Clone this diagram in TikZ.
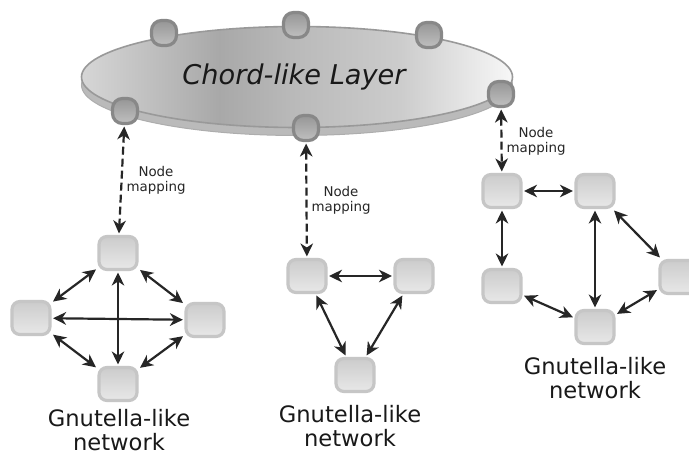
\documentclass[tikz,border=0pt]{standalone}
\usepackage{fontspec}
\setmainfont{DejaVu Sans}
\usetikzlibrary{arrows.meta,shapes.geometric,calc}
\pgfdeclarehorizontalshading{chordshade}{100bp}{rgb(0bp)=(.84,.84,.84);rgb(25bp)=(.84,.84,.84);rgb(41bp)=(.66,.66,.66);rgb(50bp)=(.73,.73,.73);rgb(62bp)=(.80,.80,.80);rgb(75bp)=(.97,.97,.97);rgb(100bp)=(.97,.97,.97)}
\definecolor{peerborder}{HTML}{C6C6C6}
\definecolor{peertop}{HTML}{CCCCCC}
\definecolor{peerbot}{HTML}{E8E8E8}
\definecolor{chordborder}{HTML}{888888}
\definecolor{chordtop}{HTML}{969696}
\definecolor{chordbot}{HTML}{C0C0C0}
\tikzset{
  x=1pt,y=-1pt,
  peer/.style={draw=peerborder,line width=3.2pt,rounded corners=8pt,minimum width=38pt,minimum height=33pt,inner sep=0pt,top color=peertop,bottom color=peerbot,outer sep=3pt},
  chordnode/.style={draw=chordborder,line width=3.2pt,rounded corners=10pt,minimum width=25pt,minimum height=25pt,inner sep=0pt,top color=chordtop,bottom color=chordbot,outer sep=3pt},
  link/.style={{Stealth[length=13pt,width=12.5pt,inset=4pt]}-{Stealth[length=13pt,width=12.5pt,inset=4pt]},line width=2.2pt,black!85},
  maplink/.style={link,dash pattern=on 8pt off 4pt},
  maplabel/.style={align=center,font=\fontsize{13.4}{15}\selectfont,text=black!85,inner sep=0pt},
  netlabel/.style={align=center,font=\fontsize{22.6}{24}\selectfont,text=black!90,inner sep=0pt},
}
\begin{document}
\begin{tikzpicture}
\useasboundingbox (0,0) rectangle (689,454);
\fill[white] (0,0) rectangle (689,454);
% layer
\node[ellipse,fill=black!27,draw=black!32,line width=1pt,minimum width=431pt,minimum height=101pt,inner sep=0pt] (layershadow) at (297,85) {};
\node[ellipse,shading=chordshade,draw=black!40,line width=1.6pt,minimum width=431pt,minimum height=101pt,inner sep=0pt] (layer) at (297,77) {};
\node[font=\fontsize{27.2}{30}\selectfont\itshape,inner sep=0pt,text=black!90] (layertitle) at (294,77) {Chord-like Layer};
% chord nodes
\node[chordnode] (c1) at (164,33) {};
\node[chordnode] (c2) at (296,25) {};
\node[chordnode] (c3) at (429,35) {};
\node[chordnode] (c4) at (125,111) {};
\node[chordnode] (c5) at (306,128) {};
\node[chordnode] (c6) at (501,94) {};
% left network
\node[peer] (a1) at (118,253) {};
\node[peer] (a2) at (31,318) {};
\node[peer] (a3) at (205,320) {};
\node[peer] (a4) at (118,384) {};
\draw[link] (a1) -- (a2);
\draw[link] (a1) -- (a3);
\draw[link] (a1) -- (a4);
\draw[link] (a2) -- (a3);
\draw[link] (a2) -- (a4);
\draw[link] (a3) -- (a4);
\draw[maplink] (c4) -- (a1);
% middle network
\node[peer] (b1) at (307,276) {};
\node[peer] (b2) at (414,276) {};
\node[peer] (b3) at (355,375) {};
\draw[link] (b1) -- (b2);
\draw[link] (b1) -- (b3);
\draw[link] (b2) -- (b3);
\draw[maplink] (c5) -- (b1);
% right network
\node[peer] (d1) at (502,191) {};
\node[peer] (d2) at (595,191) {};
\node[peer] (d3) at (502,286) {};
\node[peer] (d4) at (595,327) {};
\node[peer] (d5) at (679,277) {};
\draw[link] (d1) -- (d2);
\draw[link] (d1) -- (d3);
\draw[link] (d2) -- (d4);
\draw[link] (d2) -- (d5);
\draw[link] (d3) -- (d4);
\draw[link] (d4) -- (d5);
\draw[maplink] (c6) -- (d1);
% labels
\node[maplabel] (m1) at (156,180) {Node\\mapping};
\node[maplabel] (m2) at (341,200) {Node\\mapping};
\node[maplabel] (m3) at (536,141) {Node\\mapping};
\node[netlabel] (n1) at (119,430) {Gnutella-like\\network};
\node[netlabel] (n2) at (350,426) {Gnutella-like\\network};
\node[netlabel] (n3) at (595,378) {Gnutella-like\\network};
\end{tikzpicture}
\end{document}
